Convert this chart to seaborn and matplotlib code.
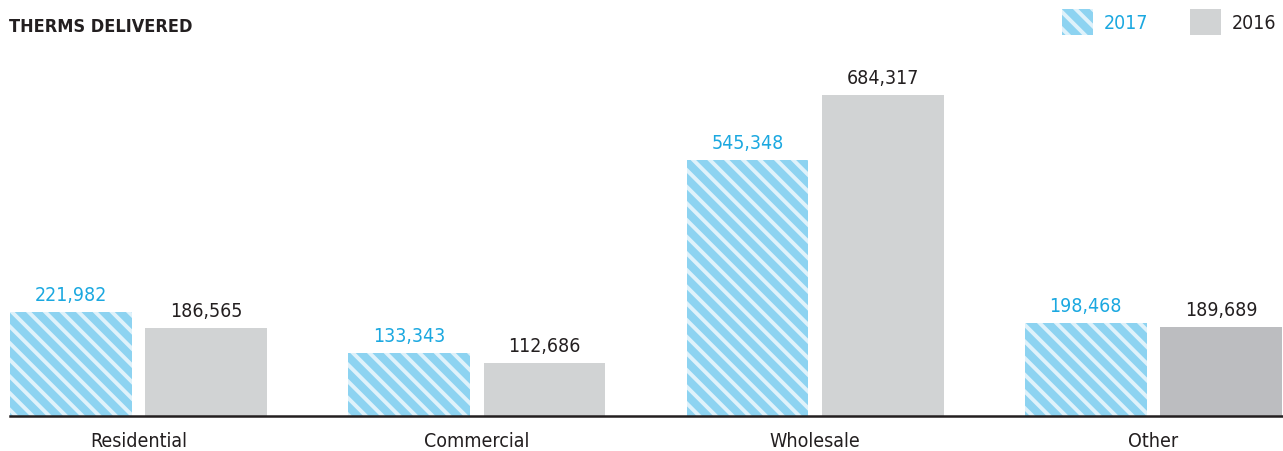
import matplotlib
matplotlib.use("Agg")
import matplotlib.pyplot as plt
import matplotlib.patches as mpatches
import seaborn as sns
import pandas as pd

categories = ["Residential", "Commercial", "Wholesale", "Other"]
years = ["2017", "2016"]
therms_2017 = [221982, 133343, 545348, 198468]
therms_2016 = [186565, 112686, 684317, 189689]

BLUE_FILL = "#8dd3f1"
BLUE_STRIPE = "#dff2fb"
BLUE_TEXT = "#1ba8e0"
GRAY_FILL = "#d1d3d4"
GRAY_DARK = "#bcbdc0"
INK = "#231f20"

sns.set_theme(style="white")
plt.rcParams["font.family"] = ["DejaVu Sans"]
plt.rcParams["font.stretch"] = "condensed"
plt.rcParams["hatch.linewidth"] = 2.8

df = pd.DataFrame({
    "category": categories * 2,
    "year": [years[0]] * len(categories) + [years[1]] * len(categories),
    "therms": therms_2017 + therms_2016,
})

fig = plt.figure(figsize=(12.83, 4.52), dpi=100)
ax = fig.add_axes([10 / 1283, 35 / 452, 1272 / 1283, 357 / 452])

sns.barplot(data=df, x="category", y="therms", hue="year", hue_order=years,
            palette=[BLUE_FILL, GRAY_FILL], width=0.8, gap=0.1,
            legend=False, ax=ax, errorbar=None)

c2017, c2016 = ax.containers[0], ax.containers[1]
for bar in c2017:
    bar.set_facecolor(BLUE_FILL)
    bar.set_edgecolor(BLUE_STRIPE)
    bar.set_hatch("\\\\")
    bar.set_linewidth(0)
for bar in c2016:
    bar.set_linewidth(0)
# the "Other" 2016 bar is shaded a touch darker
c2016[3].set_facecolor(GRAY_DARK)

ax.bar_label(c2017, labels=[f"{v:,}" for v in therms_2017], padding=6,
             fontsize=14, color=BLUE_TEXT)
ax.bar_label(c2016, labels=[f"{v:,}" for v in therms_2016], padding=6,
             fontsize=14, color=INK)

ax.set_xlim(-0.38, 3.38)
ax.set_ylim(0, 761000)
ax.set_xlabel("")
ax.set_ylabel("")
ax.set_yticks([])
ax.tick_params(axis="x", length=0, pad=11, labelsize=14, labelcolor=INK)
for side in ["top", "left", "right"]:
    ax.spines[side].set_visible(False)
ax.spines["bottom"].set_color(INK)
ax.spines["bottom"].set_linewidth(1.8)
ax.grid(False)

fig.text(9 / 1283, 1 - 27 / 452, "THERMS DELIVERED", fontsize=13,
         fontweight="bold", color=INK, va="center", ha="left")

h2017 = mpatches.Patch(facecolor=BLUE_FILL, edgecolor=BLUE_STRIPE, hatch="\\\\", linewidth=0)
h2016 = mpatches.Patch(facecolor=GRAY_FILL, linewidth=0)
leg = fig.legend([h2017, h2016], years, ncol=2, frameon=False,
                 loc="upper right", bbox_to_anchor=(1.001, 0.996),
                 fontsize=14, handlelength=1.6, handleheight=1.75,
                 handletextpad=0.55, columnspacing=2.15, borderaxespad=0.0)
leg.get_texts()[0].set_color(BLUE_TEXT)
leg.get_texts()[1].set_color(INK)

fig.savefig("out.png", dpi=100, facecolor="white")
